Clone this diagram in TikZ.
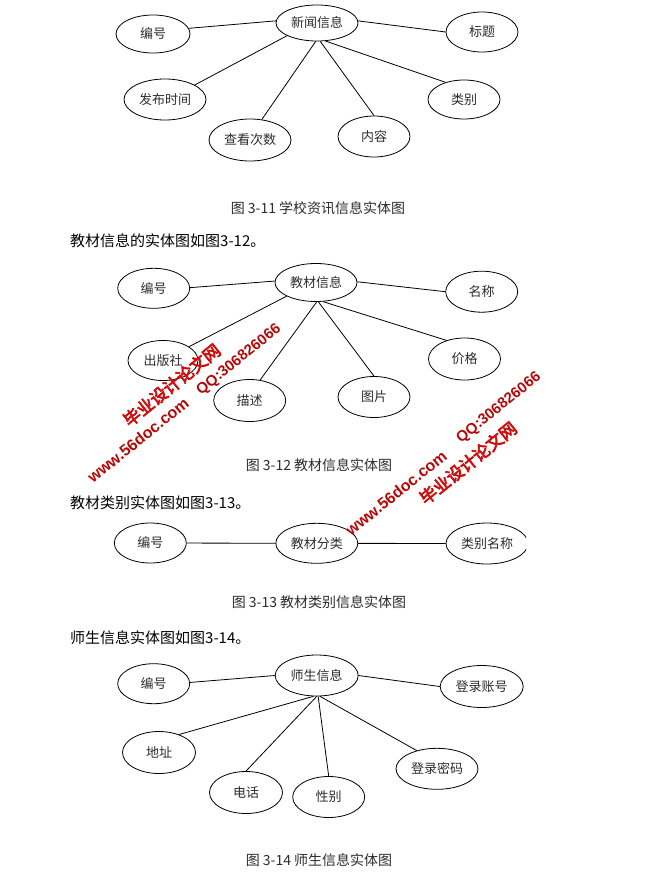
\documentclass[tikz,border=0pt]{standalone}
\usepackage{fontspec}
\setmainfont{Noto Sans CJK SC}
\newfontfamily\wmcjk[FakeBold=4]{Noto Sans CJK SC}
\newfontfamily\wmlat{Liberation Sans}
\usetikzlibrary{shapes.geometric}
\definecolor{txt}{RGB}{45,45,45}
\definecolor{wm}{RGB}{205,15,15}
\definecolor{wmd}{RGB}{180,10,10}
\tikzset{
  attr/.style={draw, ellipse, inner sep=0pt, line width=0.8pt, text=txt,
    font=\fontsize{13}{13}\selectfont},
  link/.style={line width=0.8pt},
  caption/.style={text=txt, font=\fontsize{14}{14}\selectfont, inner sep=0pt},
  heading/.style={anchor=west, text=black, font=\fontsize{15}{15}\selectfont, inner sep=0pt},
  wmc/.style={text=wm, rotate=39, inner sep=0pt, font=\wmcjk\fontsize{17}{17}\selectfont},
  wml/.style={text=wmd, rotate=39, inner sep=0pt, font=\wmlat\bfseries\fontsize{16}{16}\selectfont},
  sz/.style 2 args={minimum width=#1pt, minimum height=#2pt}
}
\begin{document}
\begin{tikzpicture}[x=1pt,y=-1pt]
\fill[white] (0,0) rectangle (645,875);
\useasboundingbox (0,0) rectangle (645,875);

% ---------- Figure 3-11 ----------
\node[attr, sz={82}{36}] (h1) at (317,23) {新闻信息};
\node[attr, sz={74}{38}] (a1) at (153,34) {编号};
\node[attr, sz={72}{40}] (b1) at (482,32) {标题};
\node[attr, sz={82}{41}] (c1) at (165,99.5) {发布时间};
\node[attr, sz={82}{42}] (d1) at (250,140) {查看次数};
\node[attr, sz={72}{41}] (e1) at (374,136.5) {内容};
\node[attr, sz={72}{39}] (f1) at (464,99.5) {类别};
\draw[link] (h1.177) -- (a1.9);
\draw[link] (h1.3) -- (b1.180);
\draw[link] (h1.-157) -- (c1.26);
\draw[link] (h1.-94) -- (d1.60);
\draw[link] (h1.-80) -- (e1.90);
\draw[link] (h1.-65) -- (f1.137);
\node[caption] (cap1) at (318,208) {图 3-11 学校资讯信息实体图};

% ---------- Figure 3-12 ----------
\node[heading] (t2) at (70,241) {教材信息的实体图如图3-12。};
\node[attr, sz={82}{38}] (h2) at (316,282.5) {教材信息};
\node[attr, sz={72}{40}] (a2) at (153.7,288.3) {编号};
\node[attr, sz={72}{41}] (b2) at (481.7,291.7) {名称};
\node[attr, sz={70}{40}] (c2) at (163,360.5) {出版社};
\node[attr, sz={72}{42}] (d2) at (249.7,400.5) {描述};
\node[attr, sz={72}{41}] (e2) at (374,397) {图片};
\node[attr, sz={72}{42}] (f2) at (464.5,359) {价格};
\draw[link] (h2.178) -- (a2.1);
\draw[link] (h2.1) -- (b2.180);
\draw[link] (h2.-155) -- (c2.28);
\draw[link] (h2.-88) -- (d2.63);
\draw[link] (h2.-83) -- (e2.90);
\draw[link] (h2.-70) -- (f2.134);
\node[caption] (cap2) at (319,465) {图 3-12 教材信息实体图};

% ---------- Figure 3-13 ----------
\node[heading] (t3) at (70,503) {教材类别实体图如图3-13。};
\node[attr, sz={72}{40}] (a3) at (150.3,543) {编号};
\node[attr, sz={82}{40}] (h3) at (316.8,543.3) {教材分类};
\begin{scope}
\clip (0,500) rectangle (526,580);
\node[attr, sz={82}{41}] (b3) at (487,543.5) {类别名称};
\end{scope}
\draw[link] (a3) -- (h3);
\draw[link] (h3) -- (b3);
\node[caption] (cap3) at (319,601.7) {图 3-13 教材类别信息实体图};

% ---------- Figure 3-14 ----------
\node[heading] (t4) at (70,638) {师生信息实体图如图3-14。};
\node[attr, sz={83}{41}] (h4) at (316.7,675.5) {师生信息};
\node[attr, sz={72}{40}] (a4) at (153.7,683.7) {编号};
\node[attr, sz={83}{42}] (b4) at (481.7,686.5) {登录账号};
\node[attr, sz={73}{42}] (c4) at (159,752.5) {地址};
\node[attr, sz={73}{42}] (d4) at (246,792.5) {电话};
\node[attr, sz={72}{41}] (e4) at (328.7,797) {性别};
\node[attr, sz={82}{41}] (f4) at (437,768.8) {登录密码};
\draw[link] (h4.180) -- (a4.2);
\draw[link] (h4.0) -- (b4.180);
\draw[link] (h4.-99) -- (c4.42);
\draw[link] (h4.-90) -- (d4.90);
\draw[link] (h4.-86) -- (e4.90);
\draw[link] (h4.-81) -- (f4.138);
\node[caption] (cap4) at (319,860) {图 3-14 师生信息实体图};

% ---------- watermarks ----------
\node[wmc] (w1a) at (171.7,385) {毕业设计论文网};
\node[wml, font=\wmlat\bfseries\fontsize{15}{15}\selectfont] (w1b) at (239,360) {QQ:306826066};
\node[wml] (w1c) at (138,440) {www.56doc.com};
\node[wmc] (w2a) at (468,463) {毕业设计论文网};
\node[wml, font=\wmlat\bfseries\fontsize{15}{15}\selectfont] (w2b) at (499,408) {QQ:306826066};
\node[wml] (w2c) at (396,493) {www.56doc.com};
\end{tikzpicture}
\end{document}
